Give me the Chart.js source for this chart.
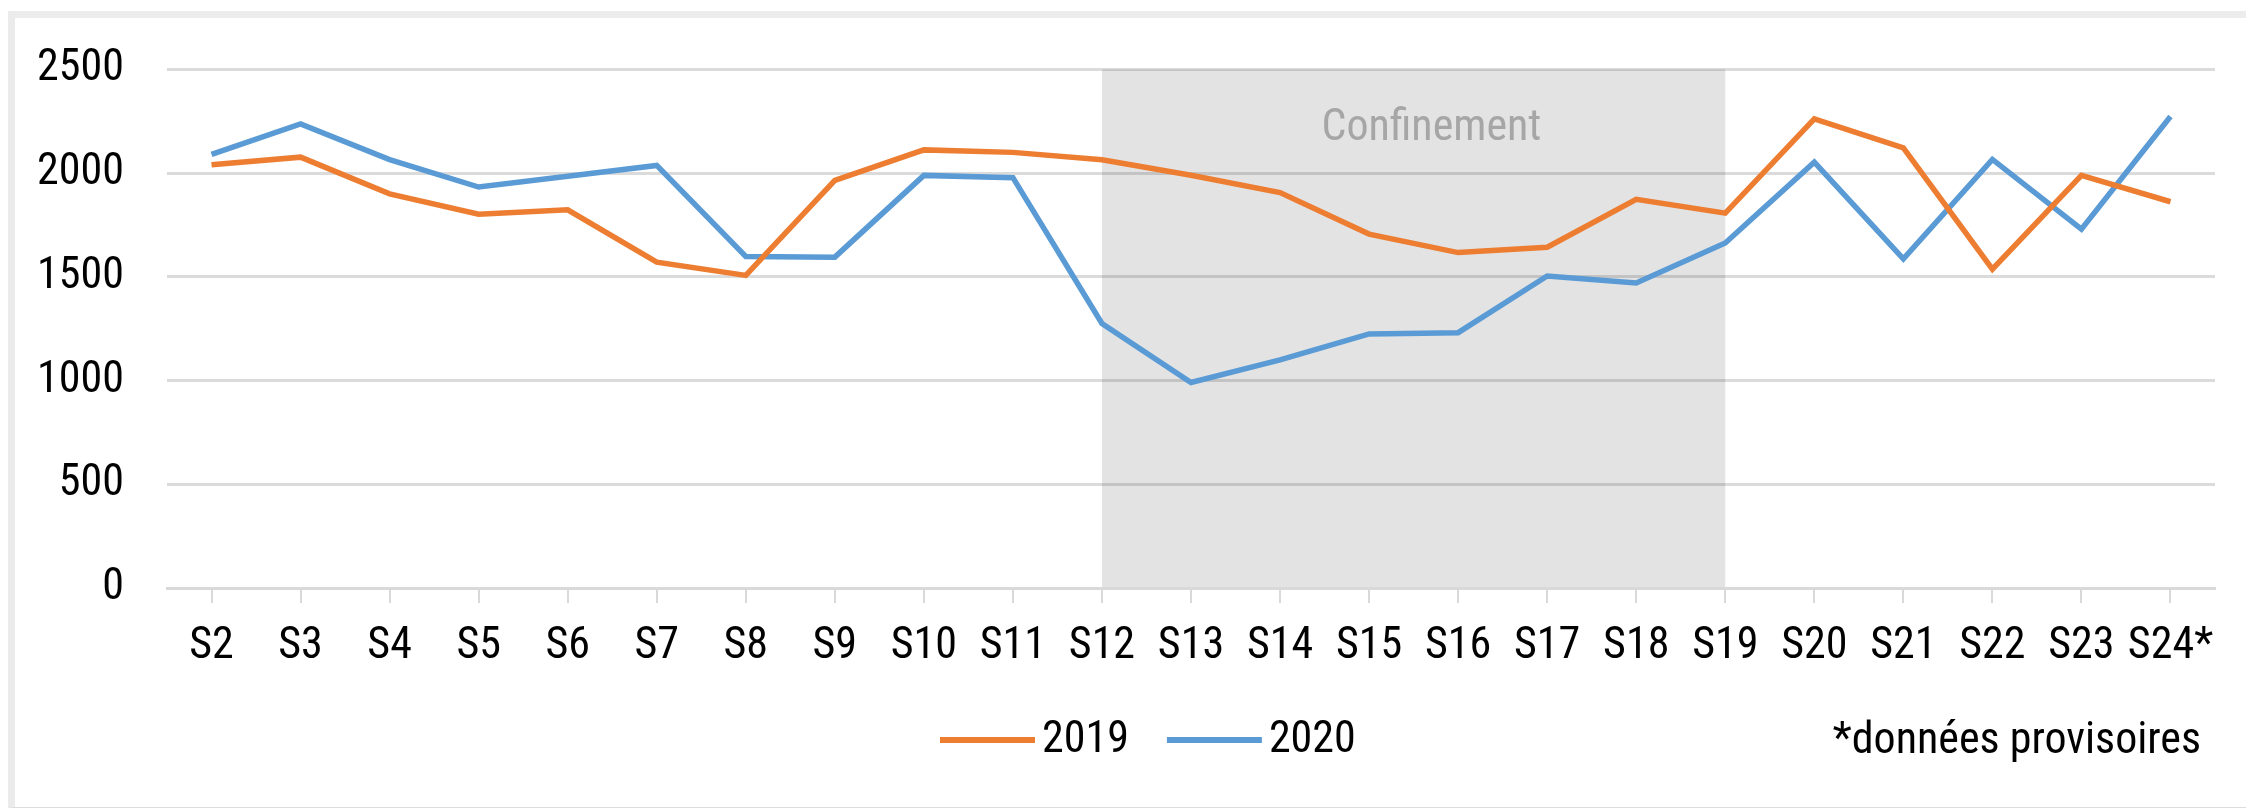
<!DOCTYPE html>
<html>
<head>
<meta charset="utf-8">
<script src="https://cdn.jsdelivr.net/npm/chart.js@4/dist/chart.umd.min.js"></script>
<style>
  body { margin: 0; background: #fff; }
  #frame {
    position: absolute; left: 8px; top: 11px; width: 2231px; height: 789px;
    border-top: 7px solid #ececec; border-left: 7px solid #ebebeb; border-bottom: 1px solid #dcdcdc;
  }
  #chart { position: absolute; left: 0; top: 0; }
</style>
</head>
<body>
<div id="frame"></div>
<canvas id="chart" width="2246" height="808"></canvas>
<script>
var weeks = ['S2', 'S3', 'S4', 'S5', 'S6', 'S7', 'S8', 'S9', 'S10', 'S11', 'S12', 'S13',
             'S14', 'S15', 'S16', 'S17', 'S18', 'S19', 'S20', 'S21', 'S22', 'S23', 'S24*'];
var values2019 = [2040, 2077, 1900, 1802, 1823, 1571, 1507, 1965, 2112, 2100, 2064, 1990,
                  1906, 1706, 1617, 1643, 1874, 1807, 2261, 2122, 1537, 1989, 1862];
var values2020 = [2090, 2237, 2065, 1933, 1985, 2037, 1598, 1595, 1989, 1978, 1275, 991,
                  1100, 1225, 1231, 1504, 1470, 1663, 2053, 1587, 2066, 1730, 2273];
var yTicks = [0, 500, 1000, 1500, 2000, 2500];
var shadeFrom = 'S12';
var shadeTo = 'S19';
var shadeLabel = 'Confinement';
var footnote = '*données provisoires';

var FONT = "'Roboto Condensed', 'Liberation Sans Narrow', 'Liberation Sans', sans-serif";
var FONT_SIZE = 44;
Chart.defaults.font.family = FONT;
Chart.defaults.font.size = FONT_SIZE;
Chart.defaults.color = '#000';

var extras = {
  id: 'extras',
  beforeDraw: function(chart) {
    var c = chart.ctx, x = chart.scales.x, y = chart.scales.y;
    var x0 = x.getPixelForValue(weeks.indexOf(shadeFrom));
    var x1 = x.getPixelForValue(weeks.indexOf(shadeTo));
    var top = y.getPixelForValue(yTicks[yTicks.length - 1]);
    var bottom = y.getPixelForValue(0);
    c.save();
    c.fillStyle = '#e3e3e3';
    c.fillRect(x0, top, x1 - x0, bottom - top);
    c.restore();
  },
  afterDraw: function(chart) {
    var c = chart.ctx, x = chart.scales.x, y = chart.scales.y;
    c.save();
    c.font = FONT_SIZE + 'px ' + FONT;
    c.textBaseline = 'middle';

    // label of the shaded period
    c.fillStyle = '#a6a6a6';
    c.textAlign = 'center';
    c.fillText(shadeLabel, x.getPixelForValue(13.7), y.getPixelForValue(2215));

    // legend
    c.textAlign = 'left';
    var lx = 940, ly = 740;
    chart.data.datasets.forEach(function(ds) {
      c.fillStyle = ds.borderColor;
      c.fillRect(lx, ly - 3, 95, 6);
      c.fillStyle = '#000';
      c.fillText(ds.label, lx + 102, ly + 1);
      lx += 102 + c.measureText(ds.label).width + 38;
    });

    // footnote
    c.textAlign = 'right';
    c.fillText(footnote, 2201, 742);
    c.restore();
  }
};

new Chart(document.getElementById('chart'), {
  type: 'line',
  data: {
    labels: weeks,
    datasets: [{
      label: '2019',
      data: values2019,
      borderColor: '#ed7d31',
      backgroundColor: '#ed7d31',
      borderWidth: 5.5,
      pointRadius: 0,
      tension: 0,
      fill: false
    }, {
      label: '2020',
      data: values2020,
      borderColor: '#5b9bd5',
      backgroundColor: '#5b9bd5',
      borderWidth: 5.5,
      pointRadius: 0,
      tension: 0,
      fill: false
    }]
  },
  options: {
    responsive: false,
    animation: false,
    devicePixelRatio: 1,
    layout: { padding: { left: 0, right: 31, top: 65, bottom: 0 } },
    plugins: {
      legend: { display: false },
      tooltip: { enabled: false }
    },
    scales: {
      x: {
        offset: true,
        grid: {
          drawOnChartArea: false,
          drawTicks: true,
          tickLength: 15,
          color: '#d9d9d9',
          lineWidth: 2
        },
        border: { display: true, color: '#d9d9d9', width: 3 },
        ticks: { padding: 18, maxRotation: 0, autoSkip: false },
        afterFit: function(scale) { scale.height = 220; }
      },
      y: {
        min: 0,
        max: 2500,
        afterBuildTicks: function(scale) {
          scale.ticks = yTicks.map(function(v) { return { value: v }; });
        },
        grid: { drawTicks: false, color: 'rgba(0,0,0,0.14)', lineWidth: 3 },
        border: { display: false },
        ticks: {
          padding: 43,
          callback: function(v) { return String(v); }
        },
        afterFit: function(scale) { scale.width = 167; }
      }
    }
  },
  plugins: [extras]
});
</script>
</body>
</html>
